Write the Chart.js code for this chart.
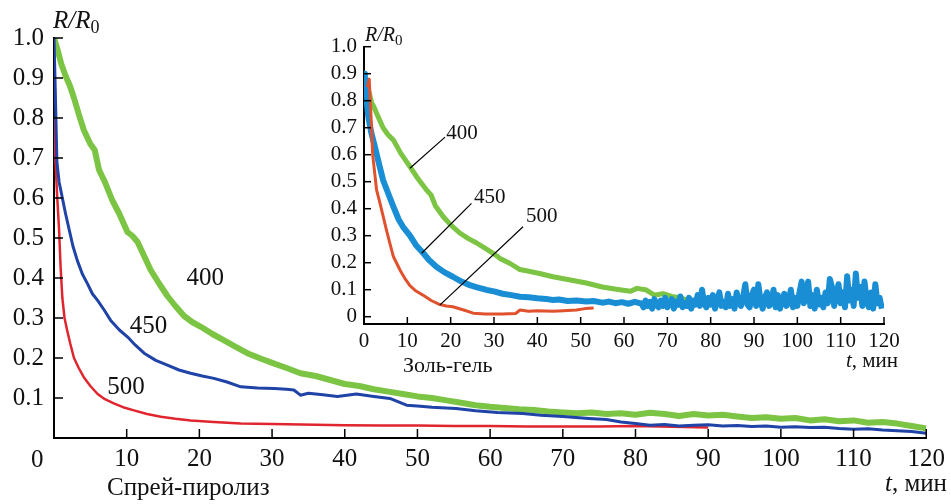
<!DOCTYPE html>
<html>
<head>
<meta charset="utf-8">
<script src="https://cdn.jsdelivr.net/npm/chart.js@4.4.1/dist/chart.umd.min.js"></script>
<style>
  html, body { margin: 0; padding: 0; background: #fff; }
  #wrap { position: relative; width: 951px; height: 504px; overflow: hidden; }
  #mainChart { position: absolute; left: 0; top: 0; }
  #insetChart { position: absolute; left: 300px; top: 20px; }
</style>
</head>
<body>
<div id="wrap">
  <canvas id="mainChart" width="951" height="504"></canvas>
  <canvas id="insetChart" width="651" height="360"></canvas>
</div>
<script>
// ---- data: spray pyrolysis (main plot) ----
const mainXTicks = [0, 10, 20, 30, 40, 50, 60, 70, 80, 90, 100, 110, 120];
const mainYTicks = [0, 0.1, 0.2, 0.3, 0.4, 0.5, 0.6, 0.7, 0.8, 0.9, 1.0];

const t400 = [0, 0.5, 1, 1.6, 2.2, 2.75, 3.4, 4.1, 5, 5.6, 6.2, 7, 8, 9, 10.1, 10.8, 11.5, 12.4, 13.3, 14.5,
  15.6, 16.7, 17.9, 19, 20.2, 21.8, 23.4, 25, 26.6, 28.5, 30.3, 32, 33.9, 36, 38, 40, 42, 44, 46, 48,
  50, 52, 54, 56, 58, 60, 62, 64, 66, 68, 70, 72, 74, 76, 78, 80, 82, 84, 86, 88,
  90, 92, 94, 96, 98, 100, 102, 104, 106, 108, 110, 112, 114, 116, 118, 120];
const r400 = [1.0, 0.97, 0.935, 0.905, 0.88, 0.85, 0.81, 0.77, 0.735, 0.72, 0.67, 0.64, 0.595, 0.56, 0.515, 0.505, 0.49, 0.455, 0.42, 0.385,
  0.355, 0.33, 0.305, 0.29, 0.278, 0.26, 0.244, 0.228, 0.212, 0.198, 0.186, 0.175, 0.162, 0.155, 0.145, 0.135, 0.13, 0.122, 0.116, 0.11,
  0.104, 0.1, 0.094, 0.088, 0.082, 0.078, 0.075, 0.072, 0.07, 0.066, 0.064, 0.062, 0.064, 0.06, 0.062, 0.058, 0.063, 0.06, 0.055, 0.06,
  0.056, 0.058, 0.054, 0.05, 0.052, 0.048, 0.05, 0.044, 0.047, 0.042, 0.044, 0.038, 0.04, 0.036, 0.03, 0.024];

const t450 = [0, 0.2, 0.4, 0.7, 1.15, 1.6, 2.1, 2.6, 3.2, 3.9, 4.6, 5.3, 6, 6.9, 7.8, 9, 10.1, 11.2, 12.4, 14,
  15.6, 17.2, 18.8, 20.4, 22, 23.8, 25.7, 28, 30.3, 32, 33, 33.9, 35, 37, 39, 41.6, 44, 46.2, 48.5, 50,
  52, 55.3, 58, 61, 64.5, 67, 70, 73.6, 76, 78, 80, 82, 84, 86, 88, 90, 92, 94, 96, 98,
  100, 102, 104, 106, 108, 110, 112, 114, 116, 118, 120];
const r450 = [1.0, 0.85, 0.69, 0.64, 0.6, 0.56, 0.52, 0.48, 0.444, 0.41, 0.386, 0.36, 0.344, 0.32, 0.294, 0.27, 0.253, 0.232, 0.212, 0.194,
  0.182, 0.17, 0.162, 0.155, 0.149, 0.14, 0.128, 0.125, 0.124, 0.122, 0.12, 0.107, 0.112, 0.108, 0.104, 0.11, 0.104, 0.099, 0.082, 0.08,
  0.077, 0.074, 0.068, 0.064, 0.061, 0.057, 0.054, 0.049, 0.046, 0.04, 0.036, 0.032, 0.034, 0.03, 0.032, 0.033, 0.03, 0.031, 0.029, 0.03,
  0.027, 0.028, 0.026, 0.027, 0.024, 0.022, 0.023, 0.02, 0.018, 0.016, 0.012];

const t500 = [0, 0.2, 0.45, 0.7, 0.9, 1.15, 1.45, 1.8, 2.25, 2.75, 3.4, 4.1, 5, 6, 7, 8.3, 9.5, 11, 12.8, 14.7,
  16.7, 18.8, 22, 25.7, 30, 34, 40, 45, 50, 55, 60, 65, 70, 75, 80, 85, 90];
const r500 = [0.8, 0.69, 0.6, 0.52, 0.43, 0.35, 0.3, 0.27, 0.235, 0.2, 0.175, 0.152, 0.13, 0.11, 0.097, 0.086, 0.077, 0.069, 0.06, 0.053,
  0.048, 0.044, 0.04, 0.036, 0.035, 0.034, 0.032, 0.031, 0.031, 0.03, 0.03, 0.029, 0.029, 0.029, 0.03, 0.028, 0.026];

// ---- data: sol-gel (inset) ----
const insetXTicks = [0, 10, 20, 30, 40, 50, 60, 70, 80, 90, 100, 110, 120];
const insetYTicks = [0, 0.1, 0.2, 0.3, 0.4, 0.5, 0.6, 0.7, 0.8, 0.9, 1.0];

const s400t = [0.5, 1.2, 1.8, 2.2, 3, 4.4, 5.5, 6.8, 8.5, 10.6, 12.5, 14.4, 15.5, 16.5, 18.3, 20, 22.1, 24, 26, 28,
  29.8, 31.5, 33.6, 35.9, 37.5, 40.5, 43.6, 47, 51.3, 55, 59, 61.5, 63, 65, 67, 69, 71, 73, 74.5];
const s400r = [0.86, 0.83, 0.79, 0.78, 0.75, 0.7, 0.675, 0.654, 0.605, 0.556, 0.51, 0.47, 0.45, 0.41, 0.37, 0.34, 0.31, 0.29, 0.273, 0.253,
  0.235, 0.215, 0.198, 0.175, 0.17, 0.16, 0.148, 0.138, 0.125, 0.11, 0.1, 0.094, 0.105, 0.1, 0.08, 0.085, 0.075, 0.07, 0.062];

const s450t = [0, 0.2, 0.6, 1, 1.7, 2.5, 3.4, 4.4, 5.5, 6.8, 8, 9, 10.6, 12, 13.7, 15, 16.7, 18.5, 20.5, 22.5,
  24.4, 26.3, 28.3, 30, 32, 34, 36, 38, 40, 42, 43.6, 45, 47, 49, 51.3, 53, 55, 56.5, 58, 59.5, 61, 62.5, 63.6,
  64, 64.5, 65, 65.5, 66, 66.5, 67, 67.5, 68, 68.5, 69, 69.5, 70, 70.5, 71, 71.5, 72, 72.5, 73, 73.5,
  74, 74.5, 75, 75.5, 76, 76.5, 77, 77.5, 78, 78.5, 79, 79.5, 80, 80.5, 81, 81.5, 82, 82.5, 83, 83.5,
  84, 84.5, 85, 85.5, 86, 86.5, 87, 87.5, 88, 88.5, 89, 89.5, 90, 90.5, 91, 91.5, 92, 92.5, 93, 93.5,
  94, 94.5, 95, 95.5, 96, 96.5, 97, 97.5, 98, 98.5, 99, 99.5, 100, 100.5, 101, 101.5, 102, 102.5, 103, 103.5,
  104, 104.5, 105, 105.5, 106, 106.5, 107, 107.5, 108, 108.5, 109, 109.5, 110, 110.5, 111, 111.5, 112, 112.5, 113, 113.5,
  114, 114.5, 115, 115.5, 116, 116.5, 117, 117.5, 118, 118.5, 119, 119.5];
const s450r = [0.9, 0.89, 0.8, 0.74, 0.68, 0.63, 0.57, 0.506, 0.46, 0.407, 0.36, 0.333, 0.3, 0.265, 0.235, 0.21, 0.185, 0.165, 0.148, 0.13,
  0.117, 0.108, 0.099, 0.094, 0.085, 0.08, 0.074, 0.072, 0.068, 0.066, 0.062, 0.064, 0.058, 0.06, 0.056, 0.058, 0.052, 0.056, 0.05, 0.054, 0.048, 0.055, 0.05,
  0.05, 0.035, 0.06, 0.04, 0.055, 0.03, 0.065, 0.045, 0.035, 0.06, 0.04, 0.07, 0.035, 0.05, 0.065, 0.03, 0.055, 0.045, 0.075, 0.035,
  0.05, 0.04, 0.07, 0.03, 0.06, 0.045, 0.08, 0.04, 0.1, 0.05, 0.035, 0.07, 0.045, 0.08, 0.03, 0.06, 0.09, 0.04, 0.055, 0.035,
  0.085, 0.04, 0.065, 0.03, 0.09, 0.05, 0.04, 0.075, 0.12, 0.045, 0.035, 0.08, 0.1, 0.04, 0.12, 0.06, 0.03, 0.07, 0.09, 0.04,
  0.05, 0.1, 0.035, 0.08, 0.03, 0.06, 0.085, 0.04, 0.055, 0.1, 0.035, 0.07, 0.04, 0.09, 0.13, 0.05, 0.07, 0.13, 0.04, 0.08,
  0.03, 0.1, 0.045, 0.07, 0.035, 0.09, 0.05, 0.14, 0.11, 0.04, 0.08, 0.12, 0.05, 0.09, 0.035, 0.15, 0.06, 0.1, 0.04, 0.16,
  0.07, 0.11, 0.04, 0.13, 0.06, 0.035, 0.09, 0.03, 0.12, 0.05, 0.07, 0.03];

const s500t = [0.8, 1.2, 1.6, 2, 2.9, 3.7, 5.2, 6, 6.8, 8.3, 9.5, 10.6, 12, 13.6, 15.5, 17.5, 19, 20.5, 23, 25.2,
  28, 32, 35, 36, 38, 40, 43.6, 46, 49, 51, 53];
const s500r = [0.85, 0.88, 0.75, 0.6, 0.47, 0.42, 0.32, 0.27, 0.222, 0.173, 0.14, 0.115, 0.095, 0.08, 0.06, 0.045, 0.04, 0.037, 0.025, 0.013,
  0.01, 0.01, 0.012, 0.025, 0.02, 0.022, 0.02, 0.022, 0.025, 0.03, 0.032];

const FONT = '"Liberation Serif", "Times New Roman", serif';

function pairs(ts, rs) {
  return ts.map((t, i) => ({ x: t, y: rs[i] }));
}

function series(ts, rs, color, width) {
  return {
    data: pairs(ts, rs),
    borderColor: color,
    borderWidth: width,
    pointRadius: 0,
    showLine: true,
    tension: 0,
    fill: false,
    borderJoinStyle: 'round'
  };
}

// draws inward ticks, curve labels, leader lines and axis titles
const decorPlugin = {
  id: 'decor',
  afterDatasetsDraw(chart, args, opts) {
    const ctx = chart.ctx;
    const xs = chart.scales.x, ys = chart.scales.y;
    const area = chart.chartArea;
    ctx.save();
    ctx.strokeStyle = '#000';
    ctx.lineWidth = 1.5;
    opts.xTicks.forEach(v => {
      if (v === 0) return;
      const px = xs.getPixelForValue(v);
      ctx.beginPath();
      ctx.moveTo(px, area.bottom);
      ctx.lineTo(px, area.bottom - opts.tickLen);
      ctx.stroke();
    });
    opts.yTicks.forEach(v => {
      if (opts.skipY0 && v === 0) return;
      const py = ys.getPixelForValue(v);
      ctx.beginPath();
      ctx.moveTo(area.left, py);
      ctx.lineTo(area.left + opts.tickLen, py);
      ctx.stroke();
    });

    ctx.lineWidth = 1.2;
    (opts.leaders || []).forEach(l => {
      ctx.beginPath();
      ctx.moveTo(xs.getPixelForValue(l[0]), ys.getPixelForValue(l[1]));
      ctx.lineTo(xs.getPixelForValue(l[2]), ys.getPixelForValue(l[3]));
      ctx.stroke();
    });

    ctx.fillStyle = '#111';
    ctx.textAlign = 'center';
    ctx.textBaseline = 'middle';
    ctx.font = opts.labelSize + 'px ' + FONT;
    (opts.labels || []).forEach(l => {
      ctx.fillText(l.text, xs.getPixelForValue(l.t), ys.getPixelForValue(l.v));
    });

    ctx.textBaseline = 'alphabetic';
    (opts.texts || []).forEach(tx => {
      let x = tx.x;
      if (tx.align === 'right') {
        let w = 0;
        tx.parts.forEach(p => { ctx.font = p.font; w += ctx.measureText(p.s).width; });
        x -= w;
      }
      tx.parts.forEach(p => {
        ctx.font = p.font;
        ctx.textAlign = 'left';
        ctx.fillText(p.s, x, tx.y + (p.dy || 0));
        x += ctx.measureText(p.s).width;
      });
    });
    ctx.restore();
  }
};

function axisOpts(min, max, tickVals, size, pad, fmt, fitProp, fitVal) {
  return {
    type: 'linear',
    min: min,
    max: max,
    grid: { display: false, drawTicks: false, tickLength: 0 },
    border: { display: true, color: '#000', width: 2 },
    afterBuildTicks: s => { s.ticks = tickVals.map(v => ({ value: v })); },
    afterFit: s => { s[fitProp] = fitVal; },
    ticks: {
      autoSkip: false,
      maxRotation: 0,
      color: '#111',
      padding: pad,
      font: { family: FONT, size: size },
      callback: fmt
    }
  };
}

new Chart(document.getElementById('mainChart'), {
  type: 'scatter',
  data: {
    datasets: [
      series(t450, r450, '#1f43a6', 3),
      series(t500, r500, '#e0252e', 2.5),
      series(t400, r400, '#7cc444', 6)
    ]
  },
  options: {
    responsive: false,
    animation: false,
    layout: { padding: { left: 0, right: 23, top: 38, bottom: 0 } },
    scales: {
      x: axisOpts(0, 120, mainXTicks, 25, 6, v => (v === 0 ? '' : String(v)), 'height', 66),
      y: axisOpts(0, 1.0, mainYTicks, 25, 10, v => (v === 0 ? '' : v.toFixed(1)), 'width', 54)
    },
    plugins: {
      legend: { display: false },
      tooltip: { enabled: false },
      decor: {
        xTicks: mainXTicks,
        yTicks: mainYTicks,
        skipY0: true,
        tickLen: 9,
        labelSize: 25,
        labels: [
          { text: '400', t: 20.8, v: 0.40 },
          { text: '450', t: 13.0, v: 0.28 },
          { text: '500', t: 9.9, v: 0.127 }
        ],
        texts: [
          { x: 53, y: 28, parts: [
            { s: 'R', font: 'italic 25px ' + FONT },
            { s: '/', font: 'italic 25px ' + FONT },
            { s: 'R', font: 'italic 25px ' + FONT },
            { s: '0', font: '18px ' + FONT, dy: 5 }
          ] },
          { x: 31, y: 467, parts: [{ s: '0', font: '25px ' + FONT }] },
          { x: 947, y: 491, align: 'right', parts: [
            { s: 't', font: 'italic 25px ' + FONT },
            { s: ', мин', font: '25px ' + FONT }
          ] },
          { x: 107, y: 495, parts: [{ s: 'Спрей-пиролиз', font: '25px ' + FONT }] }
        ]
      }
    }
  },
  plugins: [decorPlugin]
});

new Chart(document.getElementById('insetChart'), {
  type: 'scatter',
  data: {
    datasets: [
      series(s500t, s500r, '#e0522d', 3),
      series(s450t, s450r, '#1a8ed4', 6),
      series(s400t, s400r, '#7cc444', 5)
    ]
  },
  options: {
    responsive: false,
    animation: false,
    layout: { padding: { left: 0, right: 67, top: 26.7, bottom: 0 } },
    scales: {
      x: axisOpts(0, 120, insetXTicks, 21, 5, v => String(v), 'height', 56),
      y: axisOpts(-0.027, 1.0, insetYTicks, 21, 7, v => (v === 0 ? '0' : v.toFixed(1)), 'width', 64)
    },
    plugins: {
      legend: { display: false },
      tooltip: { enabled: false },
      decor: {
        xTicks: insetXTicks,
        yTicks: insetYTicks,
        skipY0: false,
        tickLen: 7,
        labelSize: 21,
        leaders: [
          [10.6, 0.55, 18.7, 0.665],
          [13.3, 0.235, 24.8, 0.42],
          [17.5, 0.043, 36.7, 0.333]
        ],
        labels: [
          { text: '400', t: 22.6, v: 0.68 },
          { text: '450', t: 29.0, v: 0.443 },
          { text: '500', t: 41.0, v: 0.373 }
        ],
        texts: [
          { x: 65, y: 21, parts: [
            { s: 'R', font: 'italic 20px ' + FONT },
            { s: '/', font: 'italic 20px ' + FONT },
            { s: 'R', font: 'italic 20px ' + FONT },
            { s: '0', font: '15px ' + FONT, dy: 4 }
          ] },
          { x: 598, y: 347, align: 'right', parts: [
            { s: 't', font: 'italic 21px ' + FONT },
            { s: ', мин', font: '21px ' + FONT }
          ] },
          { x: 103, y: 352, parts: [{ s: 'Золь-гель', font: '22px ' + FONT }] }
        ]
      }
    }
  },
  plugins: [decorPlugin]
});
</script>
</body>
</html>
